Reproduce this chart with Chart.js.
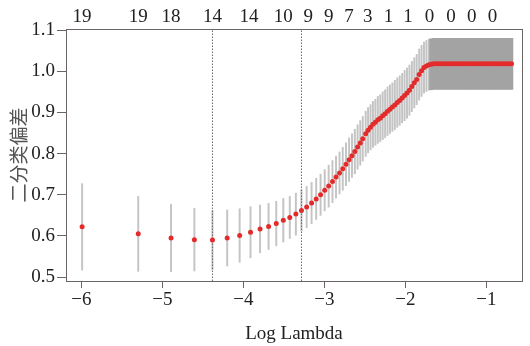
<!DOCTYPE html>
<html lang="zh">
<head>
<meta charset="UTF-8">
<title>二分类偏差 / Log Lambda</title>
<script src="https://cdn.jsdelivr.net/npm/chart.js@4"></script>
<style>
  html, body { margin: 0; padding: 0; background: #fff; }
  #wrap { width: 530px; height: 346px; }
</style>
</head>
<body>
<div id="wrap"><canvas id="cv" width="530" height="346"></canvas></div>
<script>
  // log(lambda) of each cross-validated fit
  const logLambda = [
    -5.991, -5.298, -4.893, -4.605, -4.382, -4.200, -4.046, -3.912, -3.794, -3.689,
    -3.594, -3.507, -3.427, -3.352, -3.283, -3.219, -3.158, -3.101, -3.047, -2.996,
    -2.947, -2.900, -2.856, -2.813, -2.773, -2.733, -2.695, -2.659, -2.624, -2.590,
    -2.557, -2.526,
    -2.49, -2.46, -2.43, -2.40, -2.37, -2.34, -2.31, -2.28, -2.25, -2.22,
    -2.19, -2.16, -2.13, -2.10, -2.07, -2.04, -2.01, -1.98, -1.95, -1.92,
    -1.89, -1.86, -1.83, -1.80, -1.77, -1.74, -1.71, -1.68,
    -1.65, -1.62, -1.59, -1.56, -1.53, -1.50, -1.47, -1.44, -1.41, -1.38,
    -1.35, -1.32, -1.29, -1.26, -1.23, -1.20, -1.17, -1.14, -1.11, -1.08,
    -1.05, -1.02, -0.99, -0.96, -0.93, -0.90, -0.87, -0.84, -0.81, -0.78,
    -0.75, -0.72, -0.69
  ];
  // mean binomial deviance
  const cvm = [
    0.622, 0.605, 0.595, 0.591, 0.590, 0.595, 0.601, 0.609, 0.617, 0.623,
    0.630, 0.638, 0.645, 0.653, 0.662, 0.670, 0.680, 0.690, 0.700, 0.711,
    0.721, 0.732, 0.743, 0.753, 0.763, 0.774, 0.785, 0.795, 0.805, 0.816,
    0.826, 0.836,
    0.848, 0.857, 0.864, 0.871, 0.876, 0.882, 0.886, 0.892, 0.897, 0.903,
    0.908, 0.913, 0.918, 0.924, 0.929, 0.935, 0.941, 0.947, 0.954, 0.963,
    0.972, 0.980, 0.992, 1.001, 1.009, 1.013, 1.016, 1.017,
    1.018, 1.018, 1.018, 1.018, 1.018, 1.018, 1.018, 1.018, 1.018, 1.018,
    1.018, 1.018, 1.018, 1.018, 1.018, 1.018, 1.018, 1.018, 1.018, 1.018,
    1.018, 1.018, 1.018, 1.018, 1.018, 1.018, 1.018, 1.018, 1.018, 1.018,
    1.018, 1.018, 1.018
  ];
  // standard error (bar half length)
  const cvsd = [
    0.105, 0.091, 0.082, 0.076, 0.072, 0.068, 0.065, 0.062, 0.058, 0.056,
    0.054, 0.053, 0.051, 0.051, 0.050, 0.050, 0.050, 0.050, 0.050, 0.050,
    0.051, 0.051, 0.051, 0.051, 0.052, 0.052, 0.053, 0.053, 0.054, 0.054,
    0.054, 0.054,
    0.055, 0.055, 0.055, 0.056, 0.056, 0.057, 0.057, 0.058, 0.058, 0.059,
    0.059, 0.059, 0.060, 0.060, 0.060, 0.060, 0.061, 0.061, 0.061, 0.061,
    0.061, 0.061, 0.062, 0.062, 0.062, 0.062, 0.062, 0.062,
    0.062, 0.062, 0.062, 0.062, 0.062, 0.062, 0.062, 0.062, 0.062, 0.062,
    0.062, 0.062, 0.062, 0.062, 0.062, 0.062, 0.062, 0.062, 0.062, 0.062,
    0.062, 0.062, 0.062, 0.062, 0.062, 0.062, 0.062, 0.062, 0.062, 0.062,
    0.062, 0.062, 0.062
  ];
  const lambdaMin = -4.382;
  const lambda1se = -3.283;

  // number of non-zero coefficients (top axis)
  const topTickPos = [-5.991, -5.298, -4.893, -4.382, -3.93, -3.507, -3.20, -2.947,
                      -2.695, -2.465, -2.207, -1.966, -1.701, -1.438, -1.179, -0.923];
  const topTickLabels = ['19', '19', '18', '14', '14', '10', '9', '9',
                         '7', '3', '1', '1', '0', '0', '0', '0'];
  const xTicks = [-6, -5, -4, -3, -2, -1];
  const yTicks = [0.5, 0.6, 0.7, 0.8, 0.9, 1.0, 1.1];

  const X_MIN = -6.19, X_MAX = -0.56;
  const Y_MIN = 0.4905, Y_MAX = 1.1027;

  const serif = "'Liberation Serif', 'DejaVu Serif', serif";
  const boxColor = '#6a6464';

  const points = logLambda.map((x, i) => ({ x: x, y: cvm[i] }));
  const barsThin = [], barsFlat = [];
  logLambda.forEach((x, i) => {
    const b = { x: x, y: [cvm[i] - cvsd[i], cvm[i] + cvsd[i]] };
    if (x > -1.70) barsFlat.push(b); else barsThin.push(b);
  });

  function vline(x) {
    return {
      type: 'line',
      data: [{ x: x, y: Y_MIN }, { x: x, y: Y_MAX }],
      borderColor: '#666',
      borderWidth: 1,
      borderDash: [1.5, 1.5],
      pointRadius: 0,
      showLine: true,
      order: 1
    };
  }

  new Chart(document.getElementById('cv'), {
    type: 'scatter',
    data: {
      datasets: [
        {
          data: points,
          pointRadius: 2.5,
          pointBackgroundColor: '#e42b2b',
          pointBorderWidth: 0,
          showLine: false,
          order: 0
        },
        {
          type: 'bar',
          data: barsThin,
          backgroundColor: 'rgba(100,100,100,0.38)',
          barThickness: 1.3,
          grouped: false,
          order: 2
        },
        {
          // densely packed bars, they merge into one band
          type: 'bar',
          data: barsFlat,
          backgroundColor: '#a3a3a3',
          barThickness: 3,
          grouped: false,
          order: 2
        },
        vline(lambdaMin),
        vline(lambda1se)
      ]
    },
    options: {
      responsive: false,
      animation: false,
      layout: { padding: 0 },
      plugins: { legend: { display: false }, tooltip: { enabled: false } },
      scales: {
        x: {
          type: 'linear',
          position: 'bottom',
          offset: false,
          min: X_MIN, max: X_MAX,
          afterBuildTicks: s => { s.ticks = xTicks.map(v => ({ value: v })); },
          afterFit: s => { s.height = 65; },
          ticks: {
            autoSkip: false, maxRotation: 0, padding: 1,
            color: '#222', font: { family: serif, size: 19 },
            callback: v => (v < 0 ? '\u2212' : '') + Math.abs(v)
          },
          grid: { offset: false, drawOnChartArea: false, drawTicks: true, tickLength: 7, color: boxColor },
          border: { display: true, color: boxColor, width: 1 },
          title: {
            display: true, text: 'Log Lambda', color: '#222',
            font: { family: serif, size: 19 }, padding: { top: 0, bottom: 1 }
          }
        },
        xTop: {
          type: 'linear',
          position: 'top',
          offset: false,
          min: X_MIN, max: X_MAX,
          afterBuildTicks: s => { s.ticks = topTickPos.map(v => ({ value: v })); },
          afterFit: s => { s.height = 29; },
          ticks: {
            autoSkip: false, maxRotation: 0, padding: 1,
            color: '#222', font: { family: serif, size: 19 },
            callback: (v, i) => topTickLabels[i]
          },
          grid: { offset: false, drawOnChartArea: false, drawTicks: false },
          border: { display: true, color: boxColor, width: 1 }
        },
        y: {
          type: 'linear',
          position: 'left',
          min: Y_MIN, max: Y_MAX,
          afterBuildTicks: s => { s.ticks = yTicks.map(v => ({ value: v })); },
          afterFit: s => { s.width = 66; },
          ticks: {
            autoSkip: false, padding: 2,
            color: '#222', font: { family: serif, size: 19 },
            callback: v => v.toFixed(1)
          },
          grid: { drawOnChartArea: false, drawTicks: true, tickLength: 9, color: boxColor },
          border: { display: true, color: boxColor, width: 1 },
          title: {
            display: true, text: '二分类偏差', color: '#555',
            font: { family: "'Noto Sans CJK SC', sans-serif", size: 19 },
            padding: { top: 7, bottom: 0 }
          }
        },
        yRight: {
          type: 'linear',
          position: 'right',
          min: Y_MIN, max: Y_MAX,
          afterFit: s => { s.width = 8; },
          ticks: { display: false },
          grid: { drawOnChartArea: false, drawTicks: false },
          border: { display: true, color: boxColor, width: 1 }
        }
      }
    }
  });
</script>
</body>
</html>
